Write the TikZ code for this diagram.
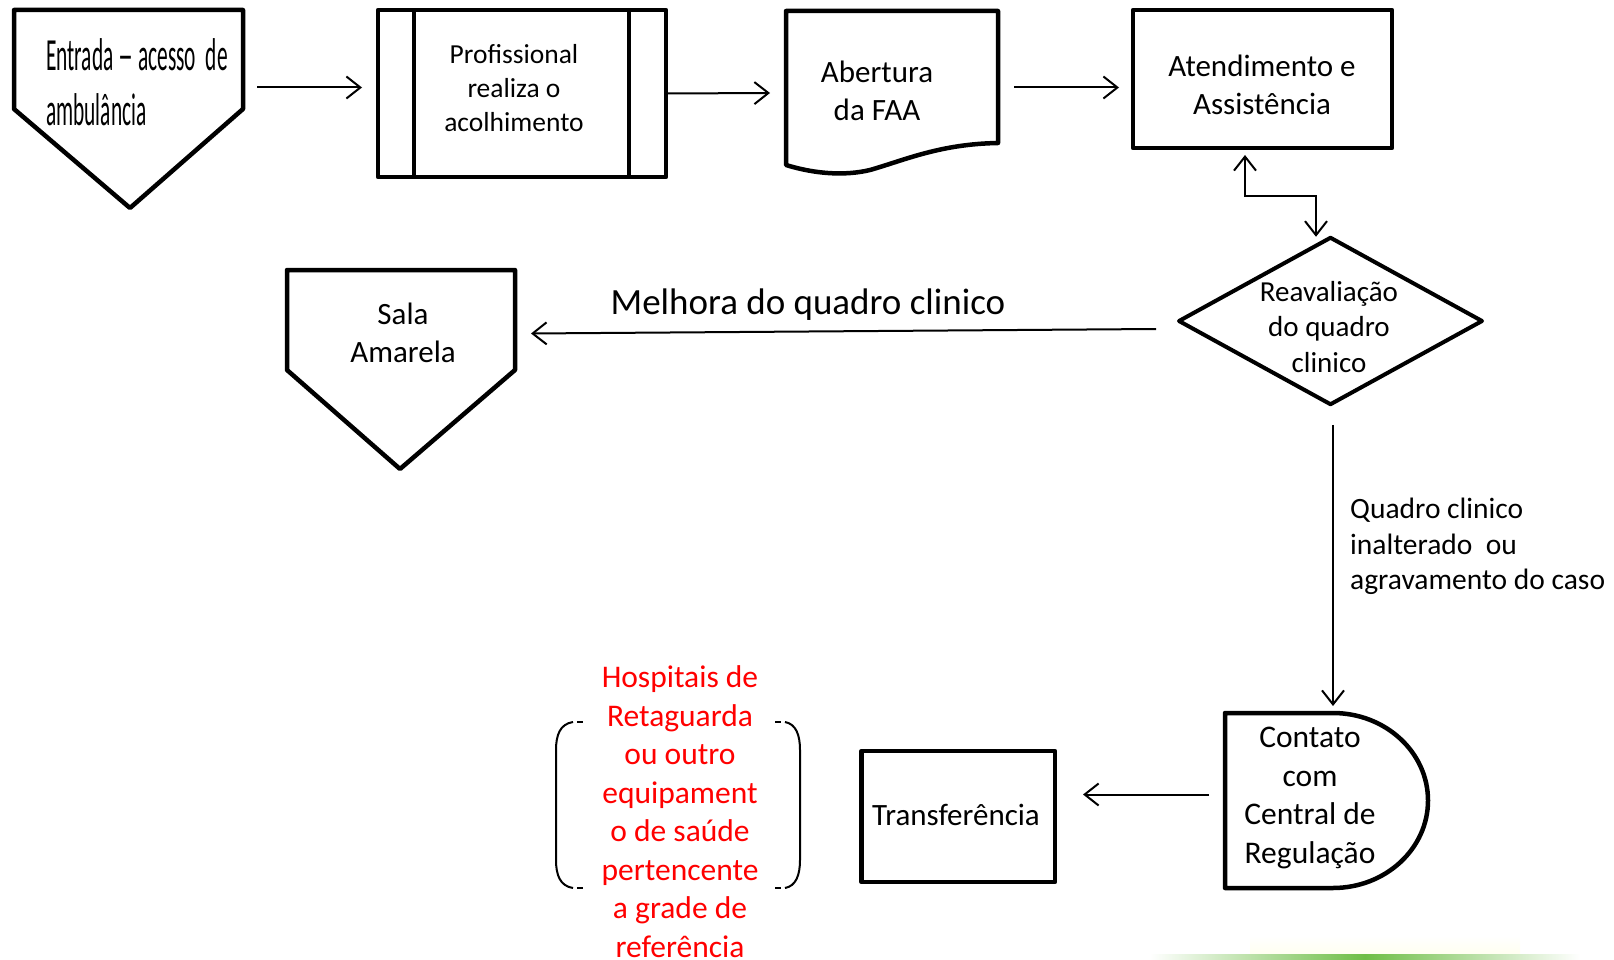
\documentclass[tikz,border=0pt]{standalone}
\usepackage{fontspec}
\usepackage{graphicx}
\setmainfont{Carlito}
\usetikzlibrary{arrows.meta,shapes.geometric}
\definecolor{grn}{RGB}{110,190,70}
\definecolor{redtxt}{RGB}{255,0,0}
\begin{document}
\begin{tikzpicture}[x=1pt,y=-1pt,
  shp/.style={draw, line width=4.5pt, line join=round},
  area/.style={inner sep=0pt, outer sep=0pt},
  arr/.style={line width=2pt, -{Straight Barb[length=14pt,width=22pt]}},
  darr/.style={line width=2pt, {Straight Barb[length=14pt,width=22pt]}-{Straight Barb[length=14pt,width=22pt]}},
  txt/.style={align=center, inner sep=0pt},
  fA/.style={font=\fontsize{31}{38}\selectfont},
  fB/.style={font=\fontsize{27.5}{34}\selectfont},
  fC/.style={font=\fontsize{29}{35.5}\selectfont},
  fD/.style={font=\fontsize{31.5}{38.5}\selectfont},
  brk/.style={line width=2pt},
]
\useasboundingbox (0,0) rectangle (1614,960);

% ---- shapes ----
% Entrada (off-page connector)
\node[area, minimum width=229pt, minimum height=198pt] (n1) at (128.5,109) {};
\draw[shp] (14,10) -- (243,10) -- (243,109) -- (130,208) -- (14,109) -- cycle;
\node[anchor=base west, inner sep=0pt, font=\fontsize{46}{55}\selectfont] (t1a) at (46,71) {\scalebox{0.465}[1]{Entrada \scalebox{1.4}[1]{–} acesso\ \ de}};
\node[anchor=base west, inner sep=0pt, font=\fontsize{46}{55}\selectfont] (t1b) at (46,126) {\scalebox{0.465}[1]{ambulância}};

% Profissional (predefined process)
\node[shp, area, minimum width=288pt, minimum height=167pt] (n2) at (522,93.5) {};
\draw[shp] ([xshift=36pt]n2.north west) -- ([xshift=36pt]n2.south west);
\draw[shp] ([xshift=-37pt]n2.north east) -- ([xshift=-37pt]n2.south east);
\node[txt, fB, anchor=north] (t2) at (514,44) {Profissional\\realiza o\\acolhimento};

% Abertura (document)
\node[area, minimum width=213pt, minimum height=164pt] (n3) at (891.5,93) {};
\draw[shp] (998,11) -- (786,11) -- (786,165) .. controls (815,174) and (845,176) .. (870,170) .. controls (905,160) and (940,144) .. (998,143) -- cycle;
\node[txt, fA, anchor=north] (t3) at (877,61) {Abertura\\da FAA};

% Atendimento
\node[shp, area, minimum width=259pt, minimum height=138pt] (n4) at (1262.5,79) {};
\node[txt, fA, anchor=north] (t4) at (1262,55) {Atendimento e\\Assistência};

% Reavaliacao (decision)
\node[shp, area, diamond, line width=4pt, minimum width=303pt, minimum height=166.5pt] (n5) at (1330.5,321) {};
\node[txt, fC, anchor=north] (t5) at (1329,281) {Reavaliação\\do quadro\\clinico};

% Sala Amarela
\node[area, minimum width=228pt, minimum height=199pt] (n6) at (401,369.5) {};
\draw[shp] (287,270) -- (515,270) -- (515,370) -- (400,469) -- (287,370) -- cycle;
\node[txt, fA, anchor=north] (t6) at (403,303) {Sala\\Amarela};

% Contato (delay)
\node[area, minimum width=203pt, minimum height=175pt] (n7) at (1326.5,800.5) {};
\draw[shp] (1333,713) -- (1225,713) -- (1225,888) -- (1333,888) arc[start angle=-90, end angle=90, x radius=95pt, y radius=87.5pt] -- cycle;
\node[txt, fD, anchor=north] (t7) at (1310,727) {Contato\\com\\Central de\\Regulação};

% Transferencia
\node[shp, area, minimum width=193.5pt, minimum height=131pt] (n8) at (958.25,816.5) {};
\node[txt, fA, anchor=base] (t8) at (956,825) {Transferência};

% Hospitais (red text in brackets)
\node[txt, fD, anchor=north, text=redtxt] (t9) at (680,665.5) {Hospitais de\\Retaguarda\\ou outro\\equipament\\o de saúde\\pertencente\\a grade de\\referência};
\draw[brk] (573,722) .. controls (560,724) and (556,735) .. (556,750) -- (556,860) .. controls (556,875) and (560,886) .. (573,888);
\draw[brk] (577,722) -- (583,722);
\draw[brk] (577,888) -- (583,888);
\draw[brk] (785,722) .. controls (796,724) and (800,735) .. (800,750) -- (800,860) .. controls (800,875) and (796,886) .. (785,888);
\draw[brk] (775,722) -- (781,722);
\draw[brk] (775,888) -- (781,888);

% ---- labels ----
\node[inner sep=0pt, anchor=base, font=\fontsize{37}{44}\selectfont] (lm) at (808,314) {Melhora do quadro clinico};
\node[inner sep=0pt, anchor=north west, align=left, font=\fontsize{29.5}{35.5}\selectfont] (lq) at (1350,498) {Quadro clinico\\inalterado\ \ ou\\agravamento do caso};

% ---- connectors ----
\draw[arr] ([xshift=14pt,yshift=21.5pt]n1.east) -- ([xshift=-16pt,yshift=6pt]n2.west);
\draw[arr] ([xshift=1pt]n2.east) -- ([xshift=-15pt]n3.west);
\draw[arr] ([xshift=16pt,yshift=5.5pt]n3.east) -- ([xshift=-14pt,yshift=-8.5pt]n4.west);
\coordinate (A) at ([xshift=-17.5pt,yshift=-7pt]n4.south);
\coordinate (B) at ([xshift=-14.5pt,yshift=1pt]n5.north);
\draw[darr] (A) -- (A |- 0,196) -- (B |- 0,196) -- (B);
\draw[arr] ([xshift=-23pt,yshift=-8pt]n5.west) -- ([xshift=16pt,yshift=36pt]n6.east);
\coordinate (S) at ([xshift=2.5pt,yshift=-20.5pt]n5.south);
\coordinate (C) at ([yshift=7pt]n7.north);
\draw[arr] (S) -- (S |- C);
\draw[arr] ([xshift=-16pt,yshift=6pt]n7.west) -- ([xshift=28pt,yshift=22pt]n8.east);

% ---- green glow line ----
\shade[top color=white, bottom color=yellow!6] (1250,936) rectangle (1520,954);
\shade[left color=white, right color=white, middle color=grn] (1150,954) rectangle (1580,960);
\end{tikzpicture}
\end{document}
